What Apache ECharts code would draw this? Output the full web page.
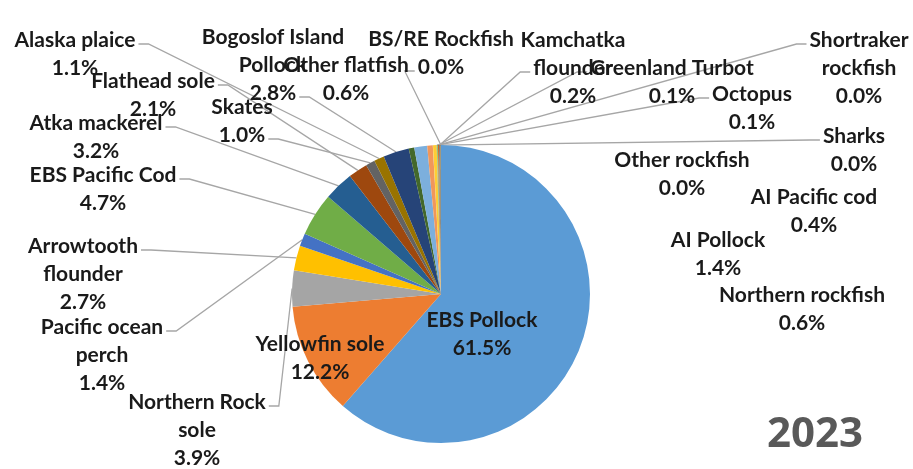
<!DOCTYPE html>
<html>
<head>
<meta charset="utf-8">
<script src="https://cdn.jsdelivr.net/npm/echarts@6/dist/echarts.min.js"></script>
<style>
html, body { margin: 0; padding: 0; background: #ffffff; }
#chart { width: 913px; height: 469px; }
</style>
</head>
<body>
<div id="chart"></div>
<script>
// catch shares by species, 2023 (in slice order, clockwise from 12 o'clock)
const species = [
    'EBS Pollock', 'Yellowfin sole', 'Northern Rock\nsole', 'Arrowtooth\nflounder',
    'Pacific ocean\nperch', 'EBS Pacific Cod', 'Atka mackerel', 'Flathead sole',
    'Skates', 'Alaska plaice', 'Bogoslof Island\nPollock', 'Other flatfish',
    'AI Pollock', 'Northern rockfish', 'Other rockfish', 'AI Pacific cod',
    'Sharks', 'Octopus', 'Shortraker\nrockfish', 'Greenland Turbot',
    'Kamchatka\nflounder', 'BS/RE Rockfish'
];
// percent; the "0.0%" ones are tiny, not zero
const shares = [
    61.5, 12.2, 3.9, 2.7,
    1.4, 4.7, 3.2, 2.1,
    1.0, 1.1, 2.8, 0.6,
    1.4, 0.6, 0.02, 0.4,
    0.02, 0.1, 0.02, 0.1,
    0.2, 0.02
];
const yearLabel = '2023';

// office palette
const colors = [
    '#5B9BD5', '#ED7D31', '#A5A5A5', '#FFC000', '#4472C4', '#70AD47',
    '#255E91', '#9E480E', '#636363', '#997300', '#264478', '#43682B',
    '#7CAFDD', '#F1975A', '#B7B7B7', '#FFCD33', '#698ED0', '#8CC168',
    '#327DC2', '#D26012', '#848484', '#CC9A00'
];

// where the labels were dragged to (centre of text block)
const labelPos = [
    [482, 334], [320, 358], [197, 430], [83, 274],
    [102, 355], [103, 189], [96, 137], [153, 95],
    [242, 121], [75, 54], [273, 65], [346, 79],
    [718, 254], [802, 309], [682, 174], [814, 211],
    [854, 150], [752, 108], [859, 68], [672, 82],
    [573, 68], [441, 53]
];
// which text row the leader line leaves from
const lineRow = [0, 0, 0, 0, 0, 0, 0, 0, 1, 0, 2, 0, 0, 0, 0, 0, 0, 0, 0, 0, 1, 1];
// labels with no leader line
const noLine = [0, 1, 11, 12, 13, 14, 15];

const FONT_SIZE = 21;
const LINE_H = 28;

let measureCtx = document.createElement('canvas').getContext('2d');
measureCtx.font = 'bold ' + FONT_SIZE + 'px Lato';

function labelText(name, value) {
    return name + '\n' + value.toFixed(1) + '%';
}

let myChart = echarts.init(document.getElementById('chart'));

let pieData = species.map((name, i) => ({
    name: name,
    value: shares[i],
    labelLine: { show: noLine.indexOf(i) < 0 }
}));

myChart.setOption({
    animation: false,
    color: colors,
    graphic: [{
        type: 'text',
        left: 767,
        top: 414,
        style: {
            text: yearLabel,
            font: 'bold 42px "Open Sans", sans-serif',
            fill: '#595959'
        }
    }],
    series: [{
        type: 'pie',
        center: [441, 294],
        radius: 149,
        startAngle: 90,
        clockwise: true,
        avoidLabelOverlap: false,
        minShowLabelAngle: 0,
        itemStyle: { borderWidth: 0 },
        label: {
            show: true,
            position: 'outside',
            formatter: p => labelText(p.name, p.value),
            fontFamily: 'Lato',
            fontWeight: 'bold',
            fontSize: FONT_SIZE,
            lineHeight: LINE_H,
            color: '#1a1a1a'
        },
        labelLine: {
            show: true,
            lineStyle: { color: '#a6a6a6', width: 1.3 }
        },
        labelLayout: function (params) {
            let i = params.dataIndex;
            let p = labelPos[i];
            let out = { x: p[0], y: p[1], align: 'center', verticalAlign: 'middle' };
            if (noLine.indexOf(i) >= 0) return out;

            // point on the slice's outer edge, from the pie's own layout
            let lay = myChart.getModel().getSeriesByIndex(0).getData().getItemLayout(i);
            let mid = (lay.startAngle + lay.endAngle) / 2;
            let sx = lay.cx + lay.r * Math.cos(mid);
            let sy = lay.cy + lay.r * Math.sin(mid);

            // end of the chosen text row, on the side facing the pie
            let rows = labelText(species[i], shares[i]).split('\n');
            let row = lineRow[i];
            let w = measureCtx.measureText(rows[row]).width;
            let top = p[1] - rows.length * LINE_H / 2;
            let ay = top + LINE_H * (row + 0.5) + 4;
            let right = p[0] < sx;
            let ax = right ? p[0] + w / 2 + 3 : p[0] - w / 2 - 3;
            let ex = right ? ax + 10 : ax - 10;
            out.labelLinePoints = [[sx, sy], [ex, ay], [ax, ay]];
            return out;
        },
        emphasis: { disabled: true },
        data: pieData
    }]
});
</script>
</body>
</html>
